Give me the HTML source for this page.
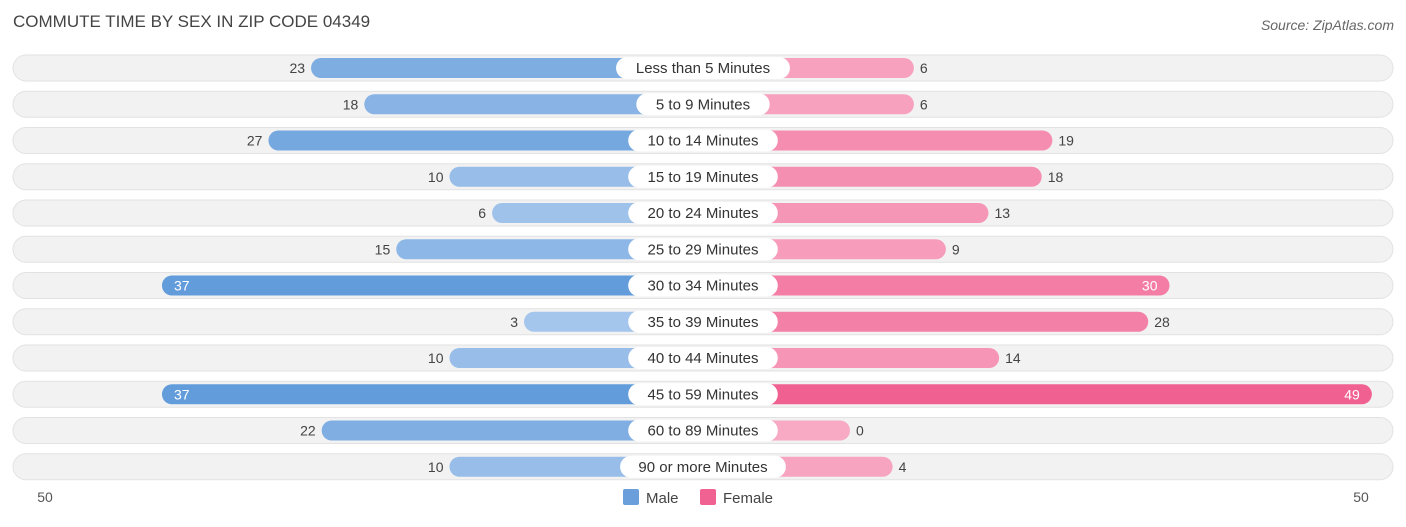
<!DOCTYPE html>
<html><head><meta charset="utf-8">
<style>
body{margin:0;background:#fff;font-family:"Liberation Sans",sans-serif;}
svg text{font-family:"Liberation Sans",sans-serif;}
</style></head>
<body>
<svg width="1406" height="522" xmlns="http://www.w3.org/2000/svg">
<text x="13" y="27" font-size="17" fill="#444">COMMUTE TIME BY SEX IN ZIP CODE 04349</text>
<text x="1394" y="30" font-size="14" fill="#666" font-style="italic" text-anchor="end">Source: ZipAtlas.com</text>
<g id="rows"></g>
<text x="45" y="502" font-size="14" fill="#555" text-anchor="middle">50</text>
<text x="1361" y="502" font-size="14" fill="#555" text-anchor="middle">50</text>
<g>
<rect x="623" y="489" width="16" height="16" rx="2" fill="#6a9fdc"/>
<text x="646" y="503" font-size="15" fill="#444">Male</text>
<rect x="700" y="489" width="16" height="16" rx="2" fill="#f06292"/>
<text x="723" y="503" font-size="15" fill="#444">Female</text>
</g>
</svg>
<script>
const categories=["Less than 5 Minutes","5 to 9 Minutes","10 to 14 Minutes","15 to 19 Minutes","20 to 24 Minutes","25 to 29 Minutes","30 to 34 Minutes","35 to 39 Minutes","40 to 44 Minutes","45 to 59 Minutes","60 to 89 Minutes","90 or more Minutes"];
const male=[23,18,27,10,6,15,37,3,10,37,22,10];
const female=[6,6,19,18,13,9,30,28,14,49,0,4];
const NS="http://www.w3.org/2000/svg";
const cx=703, base=147, k=10.65, y0=68, step=36.25, maxV=49;
function xm(v){return cx-base-v*k;}
function xf(v){return cx+base+v*k;}
function mix(a,b,t){return 'rgb('+a.map((c,i)=>Math.round(c+(b[i]-c)*t)).join(',')+')';}
const g=document.getElementById('rows');
function mk(tag,attrs){const e=document.createElementNS(NS,tag);for(const a in attrs)e.setAttribute(a,attrs[a]);g.appendChild(e);return e;}
categories.forEach((c,i)=>{
  const y=y0+i*step;
  const bg=mk('rect',{x:13,y:y-13,width:1380,height:26,rx:13,fill:'#f2f2f2',stroke:'#e2e2e2'});
  
  
  const tm=Math.min(male[i]/maxV*1.3,1), tf=female[i]/maxV;
  const mb=mk('rect',{x:xm(male[i]),y:y-10,width:cx-xm(male[i]),height:20,rx:10,fill:mix([170,201,237],[98,155,219],tm)});
  
  
  const fb=mk('rect',{x:cx,y:y-10,width:xf(female[i])-cx,height:20,rx:10,fill:mix([248,170,196],[240,96,144],tf)});
  
  
  const w=c.length*8.1+20;
  const lb=mk('rect',{x:cx-w/2,y:y-11,width:w,height:22,rx:11,fill:'#fff'});
  
  
  const lt=mk('text',{x:cx,y:y+5,'font-size':15,fill:'#333','text-anchor':'middle'});
  lt.textContent=c;
  
  
  const mIn=male[i]>=30;
  const mt=mk('text',{x:mIn?xm(male[i])+12:xm(male[i])-6,y:y+5,'font-size':14,fill:mIn?'#fff':'#444','text-anchor':mIn?'start':'end'});
  mt.textContent=male[i];
  
  
  const fIn=female[i]>=30;
  const ft=mk('text',{x:fIn?xf(female[i])-12:xf(female[i])+6,y:y+5,'font-size':14,fill:fIn?'#fff':'#444','text-anchor':fIn?'end':'start'});
  ft.textContent=female[i];
  
  
});
</script>
</body></html>
